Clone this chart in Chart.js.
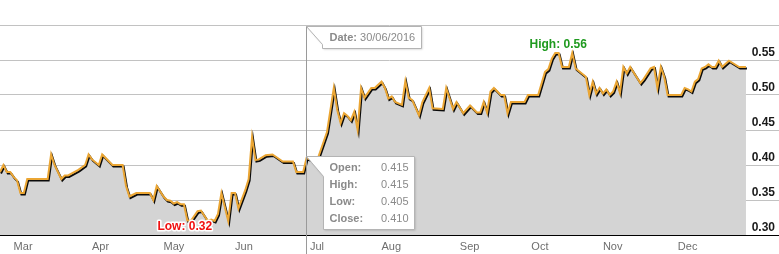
<!DOCTYPE html>
<html><head><meta charset="utf-8">
<script src="https://cdn.jsdelivr.net/npm/chart.js@4/dist/chart.umd.min.js"></script>
<style>html,body{margin:0;padding:0;background:#fff;overflow:hidden}canvas{display:block}</style>
</head><body>
<canvas id="c" width="779" height="254"></canvas>
<script>
// trading-day index (0 = first day shown) of each vertex of the close line
const dayIndex = [0,1,2,3,4,5,6,7,8,14,15,16,18,19,20,23,25,26,27,29,30,31,33,36,37,38,40,44,45,46,48,49,50,51,52,53,54,55,56,58,59,61,62,63,64,65,67,68,69,70,72,73,74,75,76,78,80,83,86,87,89,90,93,96,98,99,100,101,102,103,104,105,106,107,109,110,112,113,114,115,116,118,119,120,121,123,124,126,127,130,131,133,134,136,138,140,141,142,143,144,145,147,148,149,150,154,155,158,160,161,162,163,164,165,167,168,169,172,173,174,175,176,177,178,179,180,181,182,183,184,185,188,189,191,192,193,194,195,196,200,201,202,203,204,205,206,207,208,209,210,211,212,214,217,219];
const closePrice = [0.39,0.40,0.39,0.39,0.383,0.378,0.36,0.36,0.38,0.38,0.415,0.40,0.38,0.385,0.385,0.393,0.40,0.415,0.408,0.40,0.415,0.41,0.40,0.40,0.37,0.355,0.36,0.36,0.35,0.37,0.355,0.35,0.349,0.345,0.347,0.344,0.344,0.321,0.32,0.334,0.335,0.32,0.322,0.32,0.33,0.36,0.32,0.36,0.36,0.338,0.364,0.38,0.44,0.407,0.408,0.414,0.415,0.405,0.405,0.39,0.39,0.41,0.405,0.447,0.51,0.479,0.46,0.474,0.47,0.464,0.476,0.45,0.51,0.496,0.51,0.51,0.519,0.51,0.495,0.498,0.49,0.486,0.52,0.496,0.493,0.471,0.49,0.51,0.481,0.48,0.51,0.48,0.49,0.474,0.485,0.475,0.475,0.49,0.475,0.505,0.51,0.50,0.50,0.474,0.49,0.49,0.50,0.50,0.533,0.537,0.552,0.56,0.56,0.54,0.54,0.56,0.538,0.526,0.50,0.519,0.502,0.51,0.502,0.508,0.50,0.505,0.519,0.503,0.54,0.531,0.54,0.517,0.523,0.538,0.54,0.51,0.54,0.526,0.50,0.50,0.51,0.508,0.505,0.519,0.523,0.538,0.54,0.544,0.54,0.54,0.549,0.54,0.549,0.54,0.54];

const monthLabels = ['Mar','Apr','May','Jun','Jul','Aug','Sep','Oct','Nov','Dec'];
const monthStartIdx = [4,27,48,69,91,112,135,156,177,199];

const yMin = 0.30, yMax = 0.60, yStep = 0.05;

const tipDay = 90;
const tipDate = '30/06/2016';
const ohlcLabels = ['Open:','High:','Low:','Close:'];
const ohlcValues = ['0.415','0.415','0.405','0.410'];

const points = dayIndex.map((d,i)=>({x:d, y:closePrice[i]}));

const FONT = '"Liberation Sans", Arial, sans-serif';

const lineShadow = {
  id:'lineShadow',
  beforeDatasetDraw(chart){
    const ctx = chart.ctx; ctx.save();
    ctx.shadowColor = 'rgba(0,0,0,0.95)';
    ctx.shadowOffsetX = 1; ctx.shadowOffsetY = 1.5; ctx.shadowBlur = 0.5;
  },
  afterDatasetDraw(chart){ chart.ctx.restore(); }
};

const extremes = {
  id:'extremes',
  afterDatasetsDraw(chart){
    const ctx = chart.ctx, xs = chart.scales.x, ys = chart.scales.y;
    let hi = 0, lo = 0;
    closePrice.forEach((v,i)=>{ if(v>closePrice[hi]) hi=i; if(v<closePrice[lo]) lo=i; });
    ctx.save();
    ctx.font = 'bold 12px ' + FONT;
    ctx.textAlign = 'center'; ctx.textBaseline = 'middle';
    ctx.lineJoin = 'round';
    let x = xs.getPixelForValue(dayIndex[hi]) + 3, y = ys.getPixelForValue(closePrice[hi]) - 8;
    ctx.strokeStyle = '#fff'; ctx.lineWidth = 3;
    const ht = 'High: ' + closePrice[hi].toFixed(2);
    ctx.strokeText(ht, x, y); ctx.fillStyle = '#1f9a1f'; ctx.fillText(ht, x, y);
    x = xs.getPixelForValue(dayIndex[lo]) - 6; y = ys.getPixelForValue(closePrice[lo]) + 6;
    const lt = 'Low: ' + closePrice[lo].toFixed(2);
    ctx.strokeText(lt, x, y); ctx.fillStyle = '#f01010'; ctx.fillText(lt, x, y);
    ctx.restore();
  }
};

function callout(ctx, px, top, left, right, bottom, notch){
  ctx.beginPath();
  ctx.moveTo(px, top);
  ctx.lineTo(right, top);
  ctx.lineTo(right, bottom);
  ctx.lineTo(left, bottom);
  ctx.lineTo(left, top + notch);
  ctx.closePath();
  ctx.save();
  ctx.shadowColor = 'rgba(0,0,0,0.18)'; ctx.shadowOffsetX = 1; ctx.shadowOffsetY = 1; ctx.shadowBlur = 2;
  ctx.fillStyle = '#fff'; ctx.fill();
  ctx.restore();
  ctx.strokeStyle = '#b4b4b4'; ctx.lineWidth = 1; ctx.stroke();
}

const tipPlugin = {
  id:'tipPlugin',
  afterDraw(chart){
    const ctx = chart.ctx, xs = chart.scales.x, ys = chart.scales.y, a = chart.chartArea;
    const k = dayIndex.indexOf(tipDay);
    const px = Math.round(xs.getPixelForValue(tipDay)) - 0.5;
    const py = Math.round(ys.getPixelForValue(closePrice[k]));
    ctx.save();
    ctx.strokeStyle = '#9a9a9a'; ctx.lineWidth = 1;
    ctx.beginPath(); ctx.moveTo(px, a.top + 1); ctx.lineTo(px, chart.height); ctx.stroke();
    const dTop = a.top + 1.5;
    callout(ctx, px, dTop, px + 16, px + 115, dTop + 22, 18);
    ctx.textBaseline = 'middle'; ctx.textAlign = 'left';
    ctx.fillStyle = '#8a8a8a';
    ctx.font = 'bold 11px ' + FONT;
    const lbl = 'Date: ';
    ctx.fillText(lbl, px + 23, dTop + 11);
    const w = ctx.measureText(lbl).width;
    ctx.font = '11px ' + FONT;
    ctx.fillText(tipDate, px + 23 + w, dTop + 11);
    const tTop = py - 1.5;
    const left = px + 17, right = px + 108;
    callout(ctx, px, tTop, left, right, tTop + 73, 20);
    ohlcLabels.forEach((l,i)=>{
      const yy = tTop + 11 + i*17.2;
      ctx.textAlign = 'left'; ctx.font = 'bold 11px ' + FONT; ctx.fillStyle = '#8a8a8a';
      ctx.fillText(l, left + 6, yy);
      ctx.textAlign = 'right'; ctx.font = '11px ' + FONT;
      ctx.fillText(ohlcValues[i], right - 6, yy);
    });
    ctx.restore();
  }
};

new Chart(document.getElementById('c'), {
  type:'line',
  data:{ datasets:[{
    data: points,
    borderColor:'#eba634',
    borderWidth:2,
    backgroundColor:'#d4d4d4',
    fill:'start',
    pointRadius:0,
    tension:0,
    borderJoinStyle:'miter'
  }]},
  options:{
    responsive:false,
    animation:false,
    layout:{ padding:{ top:25, left:0, right:0, bottom:0 } },
    plugins:{ legend:{display:false}, tooltip:{enabled:false} },
    scales:{
      x:{
        type:'linear',
        min:0, max:228.7,
        afterFit: s => { s.height = 19; },
        grid:{ display:false, drawTicks:false },
        border:{ display:true, color:'#000', width:1 },
        afterBuildTicks: s => { s.ticks = monthStartIdx.map(v=>({value:v})); },
        ticks:{
          autoSkip:false, maxRotation:0, align:'start', padding:5,
          color:'#6e6e6e', font:{ family:FONT, size:11 },
          callback:(v,i)=>monthLabels[i]
        }
      },
      y:{
        position:'right',
        min:yMin, max:yMax,
        afterFit: s => { s.width = 0; },
        border:{ display:false },
        grid:{ color: c => (Math.abs(c.tick.value - yMin) < 1e-6 ? '#000' : '#c2c2c2'), drawTicks:false, lineWidth:1 },
        ticks:{
          stepSize:yStep, mirror:true, padding:-4, labelOffset:-7,
          color:'#1a1a1a', font:{ family:FONT, size:12, weight:'bold' },
          callback: v => (v > yMax - 1e-6 ? '' : Number(v).toFixed(2))
        }
      }
    }
  },
  plugins:[lineShadow, extremes, tipPlugin]
});
</script>
</body></html>
